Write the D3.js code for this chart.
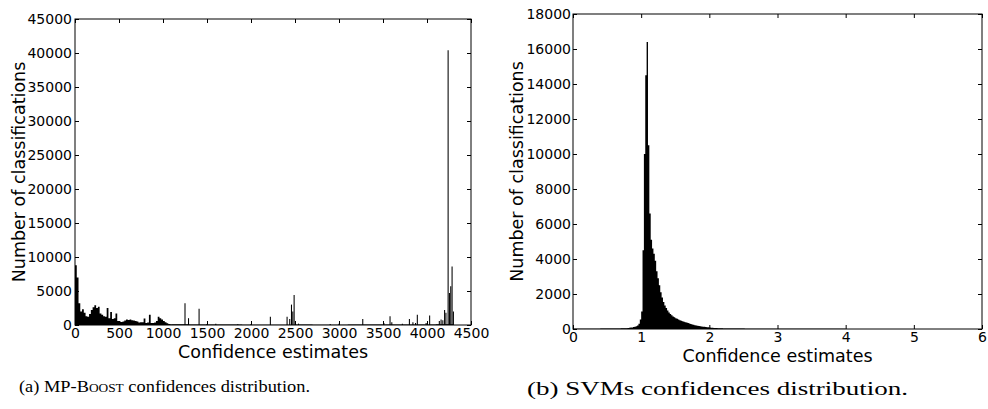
<!DOCTYPE html>
<html>
<head>
<meta charset="utf-8">
<script src="https://cdn.jsdelivr.net/npm/d3@7/dist/d3.min.js"></script>
<style>
body { margin: 0; background: #fff; }
text { fill: #000; }
</style>
</head>
<body>
<script>
//MP-Boost histogram, dense part: bins of 20 starting at 0
var boostBinWidth = 20;
var boostCounts = [8800, 7000, 3200, 2000, 2300, 1800, 1300, 1200, 1600, 2200,
                   2600, 2900, 2500, 2700, 1700, 1500, 1300, 1200, 2500, 1000,
                   1900, 900, 1000, 1700, 600, 500, 450, 500, 650, 800,
                   750, 800, 700, 650, 600, 500, 350, 400, 400, 950,
                   300, 350, 1500, 300, 300, 350, 600, 1200, 1000, 800,
                   600, 400, 250, 150, 100];
//MP-Boost low background after 1100: bins of 200
var boostBaseStart = 1100, boostBaseWidth = 200;
var boostBase = [100, 80, 60, 60, 50, 50, 50, 60, 50, 50, 60, 60, 70, 80, 80, 100];
//MP-Boost isolated spikes [confidence, count]
var boostSpikes = [[1250, 3200], [1290, 1000], [1410, 2400], [1500, 150], [1600, 200],
                   [1850, 100], [2000, 150], [2220, 1200], [2410, 1200], [2440, 900],
                   [2460, 3000], [2475, 2000], [2490, 4400], [2540, 200], [2900, 150],
                   [3000, 200], [3270, 900], [3510, 300], [3580, 1300], [3600, 400],
                   [3720, 200], [3800, 900], [3840, 400], [3870, 300], [3890, 1500],
                   [3990, 300], [4030, 1400], [4140, 600], [4160, 800], [4180, 700],
                   [4200, 2200], [4215, 1800], [4240, 40400], [4255, 4700], [4270, 5700],
                   [4285, 8600], [4300, 2000]];
var boostXTicks = [0, 500, 1000, 1500, 2000, 2500, 3000, 3500, 4000, 4500];
var boostYTicks = [0, 5000, 10000, 15000, 20000, 25000, 30000, 35000, 40000, 45000];

//SVM histogram: three parts with their own bin widths
var svmLowStart = 0, svmLowWidth = 0.1;
var svmLow = [10, 12, 15, 18, 22, 28, 35, 45];
var svmCoreStart = 0.8, svmCoreWidth = 0.02;
var svmCore = [60, 70, 80, 90, 110, 130, 160, 200, 300, 550,
               1000, 4500, 10000, 14500, 16400, 10500, 6600, 5100, 4600, 4300,
               3900, 3300, 2900, 2500, 2100, 1800, 1550, 1350, 1200, 1060,
               950, 860, 790, 720, 670, 620, 580, 540, 500, 470,
               440, 410, 390, 370, 340, 310, 290, 260, 240, 220,
               200, 185, 170, 155, 145, 135, 125, 115, 105, 95,
               85, 78, 70, 64, 58, 52, 48, 44, 40, 37,
               34, 32, 31, 30, 29, 28, 27, 27, 26, 25,
               25, 24, 23, 23, 22, 22, 21, 21, 20, 20];
var svmTailStart = 2.6, svmTailWidth = 0.2;
var svmTail = [18, 16, 14, 12, 10, 9, 8, 7, 6, 5, 5, 4, 4, 3, 3, 3, 2];
var svmXTicks = [0, 1, 2, 3, 4, 5, 6];
var svmYTicks = [0, 2000, 4000, 6000, 8000, 10000, 12000, 14000, 16000, 18000];

//Turn count arrays into bins
function toBins(counts, start, width) {
  return counts.map(function(n, i) {
    return {x0: start + i * width, x1: start + (i + 1) * width, n: n};
  });
}

//Contiguous bin groups are drawn as one step outline, spikes as single bars
var boostGroups = [toBins(boostCounts, 0, boostBinWidth),
                   toBins(boostBase, boostBaseStart, boostBaseWidth)]
    .concat(boostSpikes.map(function(s) { return [{x0: s[0] - 6, x1: s[0] + 6, n: s[1]}]; }));

var svmGroups = [toBins(svmLow, svmLowStart, svmLowWidth)
    .concat(toBins(svmCore, svmCoreStart, svmCoreWidth))
    .concat(toBins(svmTail, svmTailStart, svmTailWidth))];

//Define SVG
var svg = d3.select("body")
    .append("svg")
    .attr("width", 988)
    .attr("height", 409);

//Draw one histogram panel
function panel(p) {
  var g = svg.append("g")
      .attr("transform", "translate(" + p.left + "," + p.top + ")");

  var x = d3.scaleLinear().domain(p.xDomain).range([0, p.width]);
  var y = d3.scaleLinear().domain(p.yDomain).range([p.height, 0]);

  //Bars: each group traced as a stepped outline so no seams show
  g.selectAll(".bars")
    .data(p.groups)
    .enter().append("path")
      .attr("class", "bars")
      .attr("fill", "#000")
      .attr("d", function(bins) {
        var path = d3.path();
        var first = bins[0], last = bins[bins.length - 1];
        var right = Math.max(x(last.x1), x(first.x0) + 1);
        path.moveTo(x(first.x0), y(0));
        bins.forEach(function(d, i) {
          path.lineTo(x(d.x0), y(d.n));
          path.lineTo(i == bins.length - 1 ? right : x(d.x1), y(d.n));
        });
        path.lineTo(right, y(0));
        path.closePath();
        return path.toString();
      });

  //Axes, ticks pointing inward on all four sides
  function style(a) {
    a.select(".domain").remove();
    a.attr("font-family", "'DejaVu Sans', sans-serif").attr("font-size", 14);
    a.selectAll("line").attr("stroke", "#000");
    a.selectAll("text").attr("fill", "#000");
  }
  var fmt = d3.format("d");
  g.append("g")
      .attr("transform", "translate(0," + p.height + ")")
      .call(d3.axisBottom(x).tickValues(p.xTicks).tickFormat(fmt).tickSizeInner(-4).tickSizeOuter(0).tickPadding(3))
      .call(style);
  g.append("g")
      .call(d3.axisTop(x).tickValues(p.xTicks).tickSizeInner(-4).tickSizeOuter(0).tickFormat(""))
      .call(style);
  g.append("g")
      .call(d3.axisLeft(y).tickValues(p.yTicks).tickFormat(fmt).tickSizeInner(-4).tickSizeOuter(0).tickPadding(p.yPad))
      .call(style);
  g.append("g")
      .attr("transform", "translate(" + p.width + ",0)")
      .call(d3.axisRight(y).tickValues(p.yTicks).tickSizeInner(-4).tickSizeOuter(0).tickFormat(""))
      .call(style);

  //Frame
  g.append("rect")
      .attr("width", p.width)
      .attr("height", p.height)
      .attr("fill", "none")
      .attr("stroke", "#000")
      .attr("stroke-width", 1);

  //Axis titles
  g.append("text")
      .attr("x", p.width / 2)
      .attr("y", p.height + 33)
      .attr("text-anchor", "middle")
      .attr("font-family", "'DejaVu Sans', sans-serif")
      .attr("font-size", 17.5)
      .text("Confidence estimates");
  g.append("text")
      .attr("transform", "translate(-50," + p.height / 2 + ") rotate(-90)")
      .attr("text-anchor", "middle")
      .attr("font-family", "'DejaVu Sans', sans-serif")
      .attr("font-size", 17.5)
      .text("Number of classifications");

  //Caption below the panel
  var cap = svg.append("text")
      .attr("x", p.capX)
      .attr("y", p.capY)
      .attr("font-family", "'Liberation Serif', 'DejaVu Serif', serif")
      .attr("font-size", p.capSize)
      .attr("textLength", p.capW)
      .attr("lengthAdjust", "spacingAndGlyphs");
  p.caption.forEach(function(c) {
    cap.append("tspan")
        .style("font-variant", c.sc ? "small-caps" : "normal")
        .text(c.t);
  });
}

panel({left: 75, top: 19, width: 396, height: 306,
       xDomain: [0, 4500], yDomain: [0, 45000],
       groups: boostGroups, xTicks: boostXTicks, yTicks: boostYTicks, yPad: 3,
       capX: 19, capY: 391.5, capW: 291, capSize: 16.5,
       caption: [{t: "(a) MP-"}, {t: "Boost", sc: true}, {t: " confidences distribution."}]});

panel({left: 573, top: 14, width: 409, height: 315,
       xDomain: [0, 6], yDomain: [0, 18000],
       groups: svmGroups, xTicks: svmXTicks, yTicks: svmYTicks, yPad: 2,
       capX: 527, capY: 394.5, capW: 381, capSize: 19.5,
       caption: [{t: "(b) SVMs confidences distribution."}]});
</script>
</body>
</html>
